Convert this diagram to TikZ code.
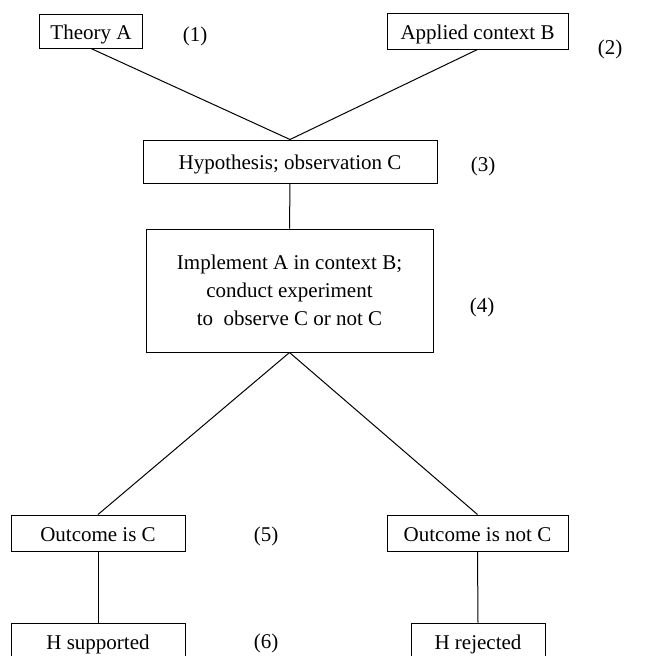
\documentclass[tikz,border=0pt]{standalone}
\usepackage{fontspec}
\setmainfont{Liberation Serif}
\usepackage{tikz}

\tikzset{
	stage/.style={draw, line width=1pt, align=center, inner sep=0pt},
	oneline/.style={stage, text height=17pt, text depth=1pt},
	tag/.style={inner sep=0pt, text height=17pt, text depth=1pt},
	link/.style={line width=1pt},
}

\begin{document}
\begin{tikzpicture}[x=1pt, y=-1pt, font=\fontsize{21}{28}\selectfont]
	\useasboundingbox (0,0) rectangle (652,656);

	% boxes
	\node[oneline, minimum width=103pt, minimum height=34pt] (theory) at (91,31) {Theory A};
	\node[oneline, minimum width=181pt, minimum height=36pt] (context) at (477.5,31) {Applied context B};
	\node[oneline, minimum width=294pt, minimum height=43pt] (hyp) at (290,161.5) {Hypothesis; observation C};
	\node[stage, minimum width=287pt, minimum height=123pt] (impl) at (289.5,290.5)
		{Implement A in context B;\\ conduct experiment\\ to\ \ observe C or not C};
	\node[oneline, minimum width=174pt, minimum height=36pt] (outC) at (98,533) {Outcome is C};
	\node[oneline, minimum width=181pt, minimum height=36pt] (outNotC) at (477.5,533) {Outcome is not C};
	\node[oneline, minimum width=174pt, minimum height=36pt] (supp) at (98,641) {H supported};
	\node[oneline, minimum width=134pt, minimum height=36pt] (rej) at (478,641) {H rejected};

	% numbering
	\node[tag] (n1) at (195,33) {(1)};
	\node[tag] (n2) at (610,46) {(2)};
	\node[tag] (n3) at (483,163) {(3)};
	\node[tag] (n4) at (482,304) {(4)};
	\node[tag] (n5) at (266,533) {(5)};
	\node[tag] (n6) at (266,640) {(6)};

	% connectors
	\draw[link] (theory.south) -- (hyp.north);
	\draw[link] (context.south) -- (hyp.north);
	\draw[link] (hyp.south) -- (impl.north);
	\draw[link] (impl.south) -- (outC.north);
	\draw[link] (impl.south) -- (outNotC.north);
	\draw[link] (outC.south) -- (supp.north);
	\draw[link] (outNotC.south) -- (rej.north);
\end{tikzpicture}
\end{document}
